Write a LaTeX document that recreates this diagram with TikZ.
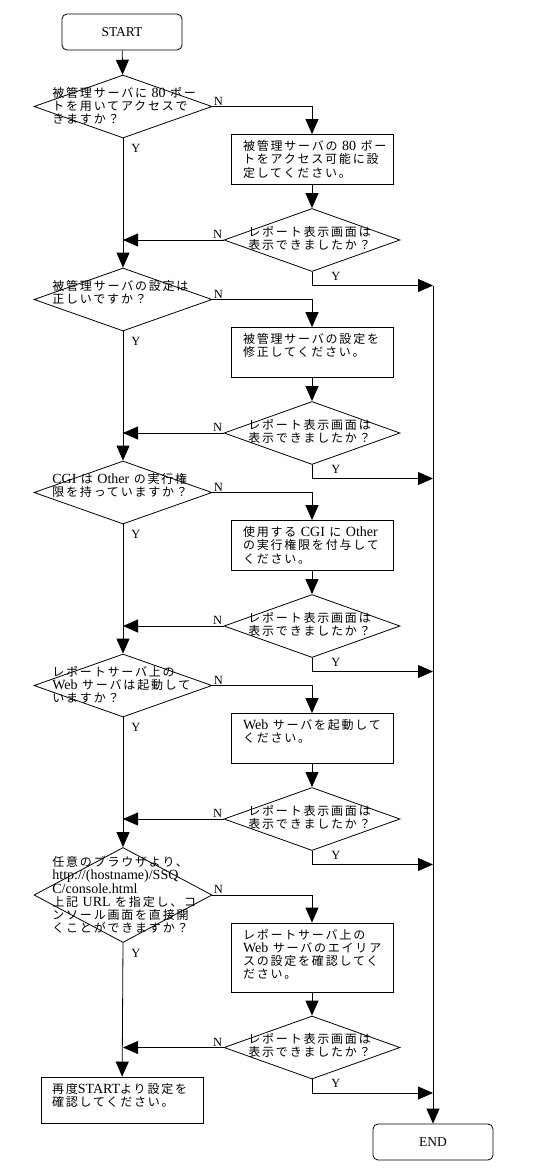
\documentclass[tikz,border=0pt]{standalone}
\usepackage{fontspec}
\setmainfont{Liberation Serif}
\newfontfamily\jp[LetterSpace=15]{Noto Sans CJK JP}
\usetikzlibrary{shapes.geometric,arrows.meta}
\newcommand\en[1]{{\rmfamily\fontsize{14}{13.2}\selectfont #1}}
\tikzset{
    TE/.style ={rectangle,rounded corners=5pt,draw,minimum width=120pt,minimum height=36pt,font=\fontsize{13.5}{13}\selectfont},
    DQ/.style ={diamond,draw,inner sep=0pt,minimum width=178pt,minimum height=63pt},
    DC/.style ={diamond,draw,inner sep=0pt,minimum width=176pt,minimum height=63pt},
    BO/.style ={rectangle,draw,inner sep=0pt,minimum width=162pt,minimum height=50pt},
    TX/.style ={inner sep=0pt,align=left,font=\fontsize{12}{13.2}\selectfont\jp},
    LB/.style ={inner sep=1pt,font=\fontsize{12.5}{12}\selectfont},
    YQ/.style ={below right,xshift=7pt,yshift=-5pt},
    AR/.style ={-{Triangle[length=15pt,width=13pt]}}}
\begin{document}
\begin{tikzpicture}[x=1pt,y=-1pt,line width=0.8pt]
        \useasboundingbox (0,0) rectangle (540,1176);
        \node[TE] (start) at (122,32) {START};
        \node[TE] (stop) at (433,1142) {END};
        \foreach \i/\y in {1/106.5,2/299.5,3/492.5,4/685.5}
            \node[DQ] (q\i) at (123,\y) {};
        \node[DQ,minimum height=95pt] (q5) at (123,895) {};
        \node[BO,minimum height=46pt] (again) at (122,1100) {};
        \foreach \i/\y/\b in {1/106.5/50,2/299.5/50,3/492.5/50,4/685.5/50,5/895/69}{
            \node[BO,minimum height=\b pt] (f\i) at (312,\y+28+\b/2) {};
            \node[DC] (c\i) at (312,\y+83.5+\b) {};
            \node[TX,anchor=west] (ct\i) at ([xshift=-64pt,yshift=2pt]c\i.center) {レポート表示画面は\\表示できましたか？};
            \coordinate (m\i) at (123,\y+83.5+\b);
            \coordinate (j\i) at (433,\y+129+\b);
            \draw[AR] (q\i.east) node[LB,above right]{N} -| (f\i);
            \draw[AR] (f\i) -- (c\i);
            \draw[AR] (c\i.west) node[LB,above left]{N} -- (m\i);
            \draw[AR] (c\i.south) |- node[LB,pos=0.5,above right,xshift=18pt,yshift=4pt]{Y} (j\i);}
        \foreach \i/\k in {1/2,2/3,3/4,4/5}
            \draw[AR] (q\i.south) node[LB,YQ]{Y} -- (q\k);
        \draw[AR] (q5.south) node[LB,YQ]{Y} -- (again);
        \draw[AR] (start) -- (q1);
        \draw[AR] (j1) -- (stop);
        % texts of the questions
        \node[TX,anchor=north west] (qt1) at ([xshift=-71pt,yshift=20pt]q1.center) {被管理サーバに \en{80} ポー\\トを用いてアクセスで\\きますか？};
        \node[TX,anchor=north west] (qt2) at ([xshift=-71pt,yshift=20pt]q2.center) {被管理サーバの設定は\\正しいですか？};
        \node[TX,anchor=north west] (qt3) at ([xshift=-71pt,yshift=20pt]q3.center) {\en{CGI} は \en{Other} の実行権\\限を持っていますか？};
        \node[TX,anchor=north west] (qt4) at ([xshift=-71pt,yshift=20pt]q4.center) {レポートサーバ上の\\\en{Web} サーバは起動して\\いますか？};
        \node[TX,anchor=west] (qt5) at ([xshift=-71pt]q5.center) {任意のブラウザより、\\\en{http://(hostname)/SSQ}\\\en{C/console.html}\\上記 \en{URL} を指定し、コ\\ンソール画面を直接開\\くことができますか？};
        % texts of the boxes
        \node[TX,anchor=north west] (ft1) at ([xshift=12pt,yshift=-6pt]f1.north west) {被管理サーバの \en{80} ポー\\トをアクセス可能に設\\定してください。};
        \node[TX,anchor=north west] (ft2) at ([xshift=12pt,yshift=-6pt]f2.north west) {被管理サーバの設定を\\修正してください。};
        \node[TX,anchor=north west] (ft3) at ([xshift=12pt,yshift=-6pt]f3.north west) {使用する \en{CGI} に \en{Other}\\の実行権限を付与して\\ください。};
        \node[TX,anchor=north west] (ft4) at ([xshift=12pt,yshift=-6pt]f4.north west) {\en{Web} サーバを起動して\\ください。};
        \node[TX,anchor=north west] (ft5) at ([xshift=12pt,yshift=-6pt]f5.north west) {レポートサーバ上の\\\en{Web} サーバのエイリア\\スの設定を確認してく\\ださい。};
        \node[TX,anchor=north west] (againt) at ([xshift=11pt,yshift=-6pt]again.north west) {再度\en{START}より設定を\\確認してください。};
    \end{tikzpicture}
\end{document}
